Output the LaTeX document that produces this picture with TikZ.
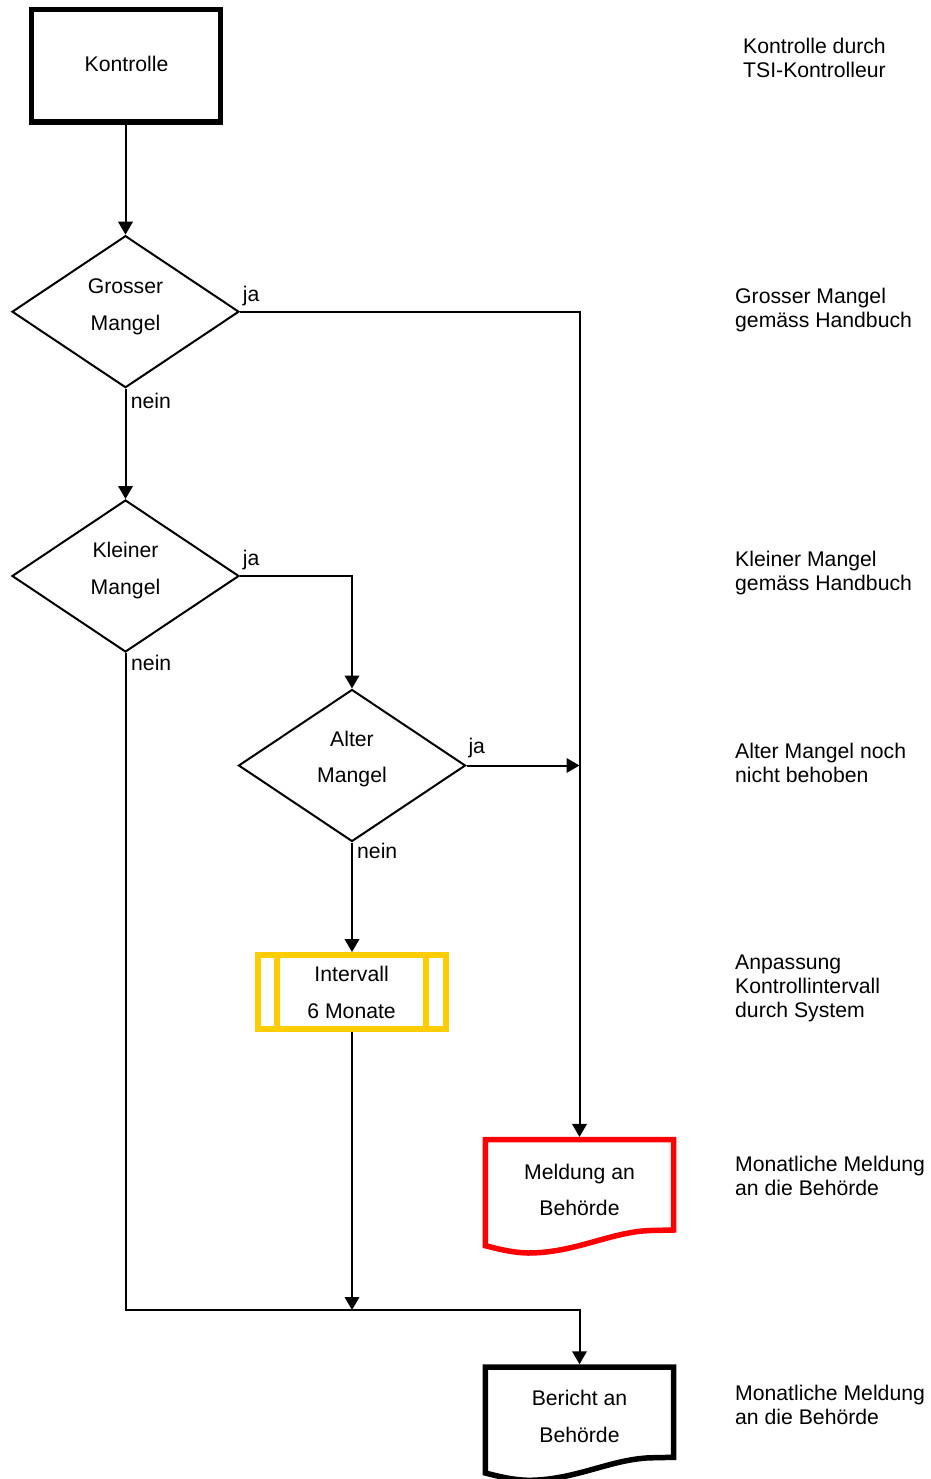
\documentclass[tikz,border=0pt]{standalone}
\usepackage{fontspec}
\setmainfont{Liberation Sans}
\usetikzlibrary{arrows.meta,shapes.geometric,calc}
\definecolor{ygold}{RGB}{255,204,0}
\definecolor{dred}{RGB}{255,0,0}
\newcommand\rtxt[1]{\begin{tabular}[t]{@{}l@{}}#1\end{tabular}}
\newcommand\docoutline[2]{%
  \draw[line width=5.5pt,draw=#2,line join=miter]
    (#1.south east) -- (#1.north east) -- (#1.north west)
    -- ($(#1.south west)+(0,15.7)$)
    .. controls ($(#1.south west)+(9.7,18)$) and ($(#1.south west)+(24.7,22.5)$) .. ($(#1.south west)+(42.7,23)$)
    .. controls ($(#1.south west)+(89.7,23)$) and ($(#1.south west)+(124.7,2)$) .. ($(#1.south west)+(164.7,0.5)$)
    -- cycle;}
\begin{document}
\begin{tikzpicture}[x=1pt,y=-1pt,
  every node/.style={font=\fontsize{21.2}{24.3}\selectfont},
  conn/.style={draw,line width=2pt,-{Triangle[length=13pt,width=14.5pt]}},
  decision/.style={diamond,draw,line width=2pt,minimum width=227pt,minimum height=152pt,inner sep=0pt},
  dtext/.style={align=center,font=\fontsize{21.2}{36.7}\selectfont,inner sep=0pt},
  docbox/.style={rectangle,minimum width=188.4pt,minimum height=90.3pt,inner sep=0pt,outer sep=0pt,anchor=north},
  lbl/.style={anchor=base west,inner sep=0pt},
  side/.style={anchor=base west,inner sep=0pt}]
\useasboundingbox (0,0) rectangle (930,1479);
\fill[white] (0,0) rectangle (930,1479);

% main nodes
\node[draw,line width=5.7pt,minimum width=189pt,minimum height=112.5pt,inner sep=0pt] (k) at (126,65.75) {};
\node (kt) at (126.5,63.5) {Kontrolle};
\node[decision] (d1) at (125.5,311.7) {};
\node[dtext] (d1t) at ($(d1.center)+(0,-5)$) {Grosser\\Mangel};
\node[decision] (d2) at (125.5,576) {};
\node[dtext] (d2t) at ($(d2.center)+(0,-5.5)$) {Kleiner\\Mangel};
\node[decision] (d3) at (352,765.5) {};
\node[dtext] (d3t) at ($(d3.center)+(0,-6.5)$) {Alter\\Mangel};
\node[draw=ygold,line width=6pt,minimum width=188pt,minimum height=74.3pt,inner sep=0pt,dtext] (intv) at (351.6,992.2) {Intervall\\6 Monate};
\draw[draw=ygold,line width=6pt] ([xshift=22.4pt]intv.north west) -- ([xshift=22.4pt]intv.south west);
\draw[draw=ygold,line width=6pt] ([xshift=-22.5pt]intv.north east) -- ([xshift=-22.5pt]intv.south east);

\node[docbox] (meld) at (579.5,1139.7) {};
\docoutline{meld}{dred}
\node[dtext] (meldt) at ($(meld.center)+(0,5)$) {Meldung an\\Behörde};
\node[docbox] (ber) at (579.5,1367) {};
\docoutline{ber}{black}
\node[dtext] (bert) at ($(ber.center)+(0,4)$) {Bericht an\\Behörde};

\coordinate (hit) at (579.5,765.5);
\coordinate (merge) at (352,1310);

% connectors
\draw[conn] (k.south -| d1.north) -- (d1.north);
\draw[conn] (d1.east) -| ($(meld.north)+(0,-2.75)$);
\draw[conn] (d1.south) -- (d2.north);
\draw[conn] (d2.east) -| (d3.north);
\draw[conn] (d3.east) -- (hit);
\draw[conn] (d3.south) -- (d3.south |- intv.north);
\draw[conn] (intv.south -| merge) -- (merge);
\draw[conn] (d2.south) |- (merge) -| ($(ber.north)+(0,-2.75)$);

% branch labels
\node[lbl] (ja1) at (242.7,301) {ja};
\node[lbl] (nein1) at (130.7,408) {nein};
\node[lbl] (ja2) at (242.7,565) {ja};
\node[lbl] (nein2) at (131,670.5) {nein};
\node[lbl] (ja3) at (468.3,753) {ja};
\node[lbl] (nein3) at (357,858) {nein};

% side descriptions
\node[side] (s1) at (743,53.5) {\rtxt{Kontrolle durch\\TSI-Kontrolleur}};
\node[side] (s2) at (735,303) {\rtxt{Grosser Mangel\\gemäss Handbuch}};
\node[side] (s3) at (735,566.5) {\rtxt{Kleiner Mangel\\gemäss Handbuch}};
\node[side] (s4) at (735,758.5) {\rtxt{Alter Mangel noch\\nicht behoben}};
\node[side] (s5) at (735,969) {\rtxt{Anpassung\\Kontrollintervall\\durch System}};
\node[side] (s6) at (735,1171) {\rtxt{Monatliche Meldung\\an die Behörde}};
\node[side] (s7) at (735,1400) {\rtxt{Monatliche Meldung\\an die Behörde}};
\end{tikzpicture}
\end{document}
